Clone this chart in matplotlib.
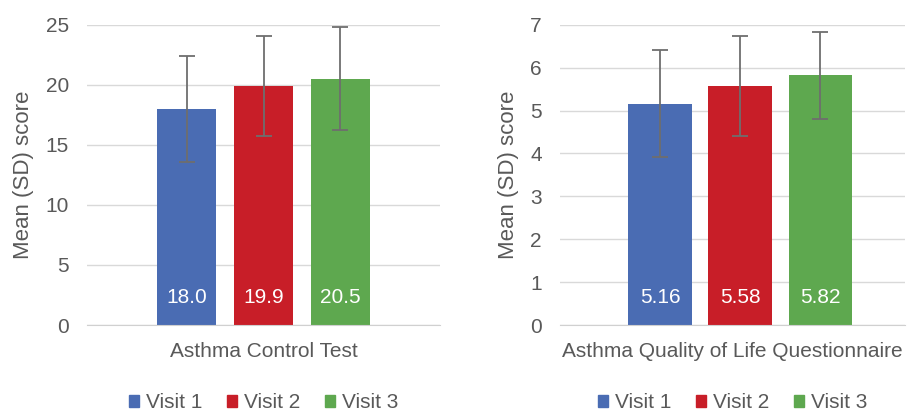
import matplotlib.pyplot as plt
from matplotlib.patches import Patch

plt.rcParams["font.family"] = ["Liberation Sans", "DejaVu Sans"]

visits = ["Visit 1", "Visit 2", "Visit 3"]
colors = ["#4a6cb3", "#c81e28", "#5ea84f"]

act_mean = [18.0, 19.9, 20.5]
act_sd = [4.4, 4.2, 4.3]
aqlq_mean = [5.16, 5.58, 5.82]
aqlq_sd = [1.25, 1.17, 1.02]

fig = plt.figure(figsize=(9.1, 4.13), dpi=100)
ax1 = fig.add_axes([87 / 910, 0.213, (440 - 87) / 910, 0.727])
ax2 = fig.add_axes([560 / 910, 0.213, (905 - 560) / 910, 0.727])

def draw(ax, means, sds, ylim, yticks, xlabel, xlim, width, fmt):
    x = list(range(len(means)))
    ax.bar(x, means, width=width, color=colors, zorder=2)
    ax.errorbar(x, means, yerr=sds, fmt="none", ecolor="#6e6e6e", elinewidth=1.3,
                capsize=6, capthick=1.3, zorder=3)
    for xi, m in zip(x, means):
        ax.text(xi, ylim[1] * 0.093, fmt.format(m), ha="center", va="center",
                color="white", fontsize=15)
    ax.set_ylim(*ylim)
    ax.set_xlim(*xlim)
    ax.set_yticks(yticks)
    ax.set_xticks([])
    for s in ["top", "right", "left"]:
        ax.spines[s].set_visible(False)
    ax.spines["bottom"].set_color("#d0d0d0")
    ax.grid(axis="y", color="#d9d9d9", linewidth=1, zorder=0)
    ax.tick_params(axis="y", length=0, labelsize=15, colors="#595959", pad=13)
    ax.set_ylabel("Mean (SD) score", fontsize=16, color="#595959", labelpad=8)
    ax.set_xlabel(xlabel, fontsize=15, color="#595959", labelpad=12)
    handles = [Patch(color=c, label=v) for c, v in zip(colors, visits)]
    ax.legend(handles=handles, loc="upper center", bbox_to_anchor=(0.5, -0.165), ncol=3,
              frameon=False, fontsize=15, handlelength=0.5, handleheight=0.5,
              handletextpad=0.3, columnspacing=1.2, labelcolor="#595959")

draw(ax1, act_mean, act_sd, (0, 25), [0, 5, 10, 15, 20, 25], "Asthma Control Test",
     (-1.3, 3.3), 0.77, "{:.1f}")
draw(ax2, aqlq_mean, aqlq_sd, (0, 7), list(range(8)), "Asthma Quality of Life Questionnaire",
     (-1.25, 3.06), 0.79, "{:.2f}")

fig.savefig("out.png", dpi=100)
